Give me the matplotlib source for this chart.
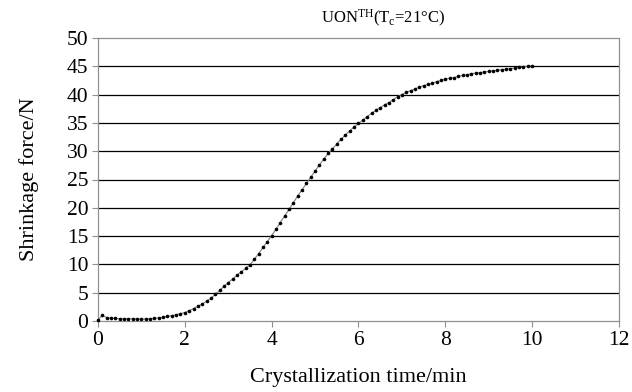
import matplotlib
matplotlib.use("Agg")
import matplotlib.pyplot as plt
import numpy as np

plt.rcParams['font.family'] = ['Liberation Serif', 'DejaVu Serif']
plt.rcParams['mathtext.fontset'] = 'custom'
plt.rcParams['mathtext.rm'] = 'Liberation Serif'
plt.rcParams['mathtext.it'] = 'Liberation Serif:italic'

time_min = [round(0.1 * i, 1) for i in range(101)]
force_N = [
    0.2, 1.0, 0.6, 0.5, 0.45, 0.4, 0.4, 0.4, 0.4, 0.35,
    0.35, 0.35, 0.4, 0.45, 0.55, 0.65, 0.8, 0.95, 1.1, 1.3,
    1.5, 1.8, 2.2, 2.6, 3.0, 3.5, 4.0, 4.7, 5.4, 6.1,
    6.8, 7.4, 8.1, 8.7, 9.3, 9.9, 10.9, 11.9, 13.0, 14.0,
    15.1, 16.2, 17.4, 18.6, 19.7, 20.9, 22.1, 23.2, 24.3, 25.4,
    26.5, 27.6, 28.6, 29.6, 30.4, 31.3, 32.1, 32.9, 33.6, 34.3,
    34.9, 35.5, 36.1, 36.7, 37.2, 37.7, 38.2, 38.6, 39.1, 39.6,
    40.0, 40.4, 40.7, 41.0, 41.3, 41.6, 41.8, 42.0, 42.3, 42.5,
    42.7, 42.9, 43.0, 43.2, 43.4, 43.5, 43.7, 43.8, 43.9, 44.0,
    44.1, 44.2, 44.3, 44.4, 44.5, 44.6, 44.7, 44.8, 44.9, 45.0,
    45.1,
]
x_ticks = [0, 2, 4, 6, 8, 10, 12]
y_ticks = [0, 5, 10, 15, 20, 25, 30, 35, 40, 45, 50]

fig = plt.figure(figsize=(6.32, 3.92), dpi=100)
ax = fig.add_axes([98/632, 1 - 321/392, (619-98)/632, (321-38)/392])

ax.set_xlim(0, 12)
ax.set_ylim(0, 50)
ax.set_xticks(x_ticks)
ax.set_yticks(y_ticks)
ax.yaxis.grid(True, color='black', linewidth=0.9)
ax.get_ygridlines()[-1].set_visible(False)
ax.get_ygridlines()[0].set_visible(False)
ax.set_axisbelow(True)
for s in ['left', 'right', 'top', 'bottom']:
    ax.spines[s].set_color('#909090')
    ax.spines[s].set_linewidth(0.9)
ax.tick_params(axis='both', direction='out', length=4, color='#909090',
               labelsize=15.5, pad=3)
ax.tick_params(axis='x', pad=3)

ax.plot(time_min, force_N, color='#808080', linewidth=0.8,
        marker='o', markersize=2.6, markerfacecolor='black',
        markeredgecolor='black', markeredgewidth=0, clip_on=False, zorder=3)

ax.set_xlabel('Crystallization time/min', fontsize=16, labelpad=13)
ax.set_ylabel('Shrinkage force/N', fontsize=16, labelpad=20)

fig.text(383/632, 1 - 18/392, r'UON$^{\mathrm{TH}}$(T$_{\mathrm{c}}$=21°C)',
         fontsize=12, ha='center', va='center')

fig.savefig('out.png', dpi=100)
